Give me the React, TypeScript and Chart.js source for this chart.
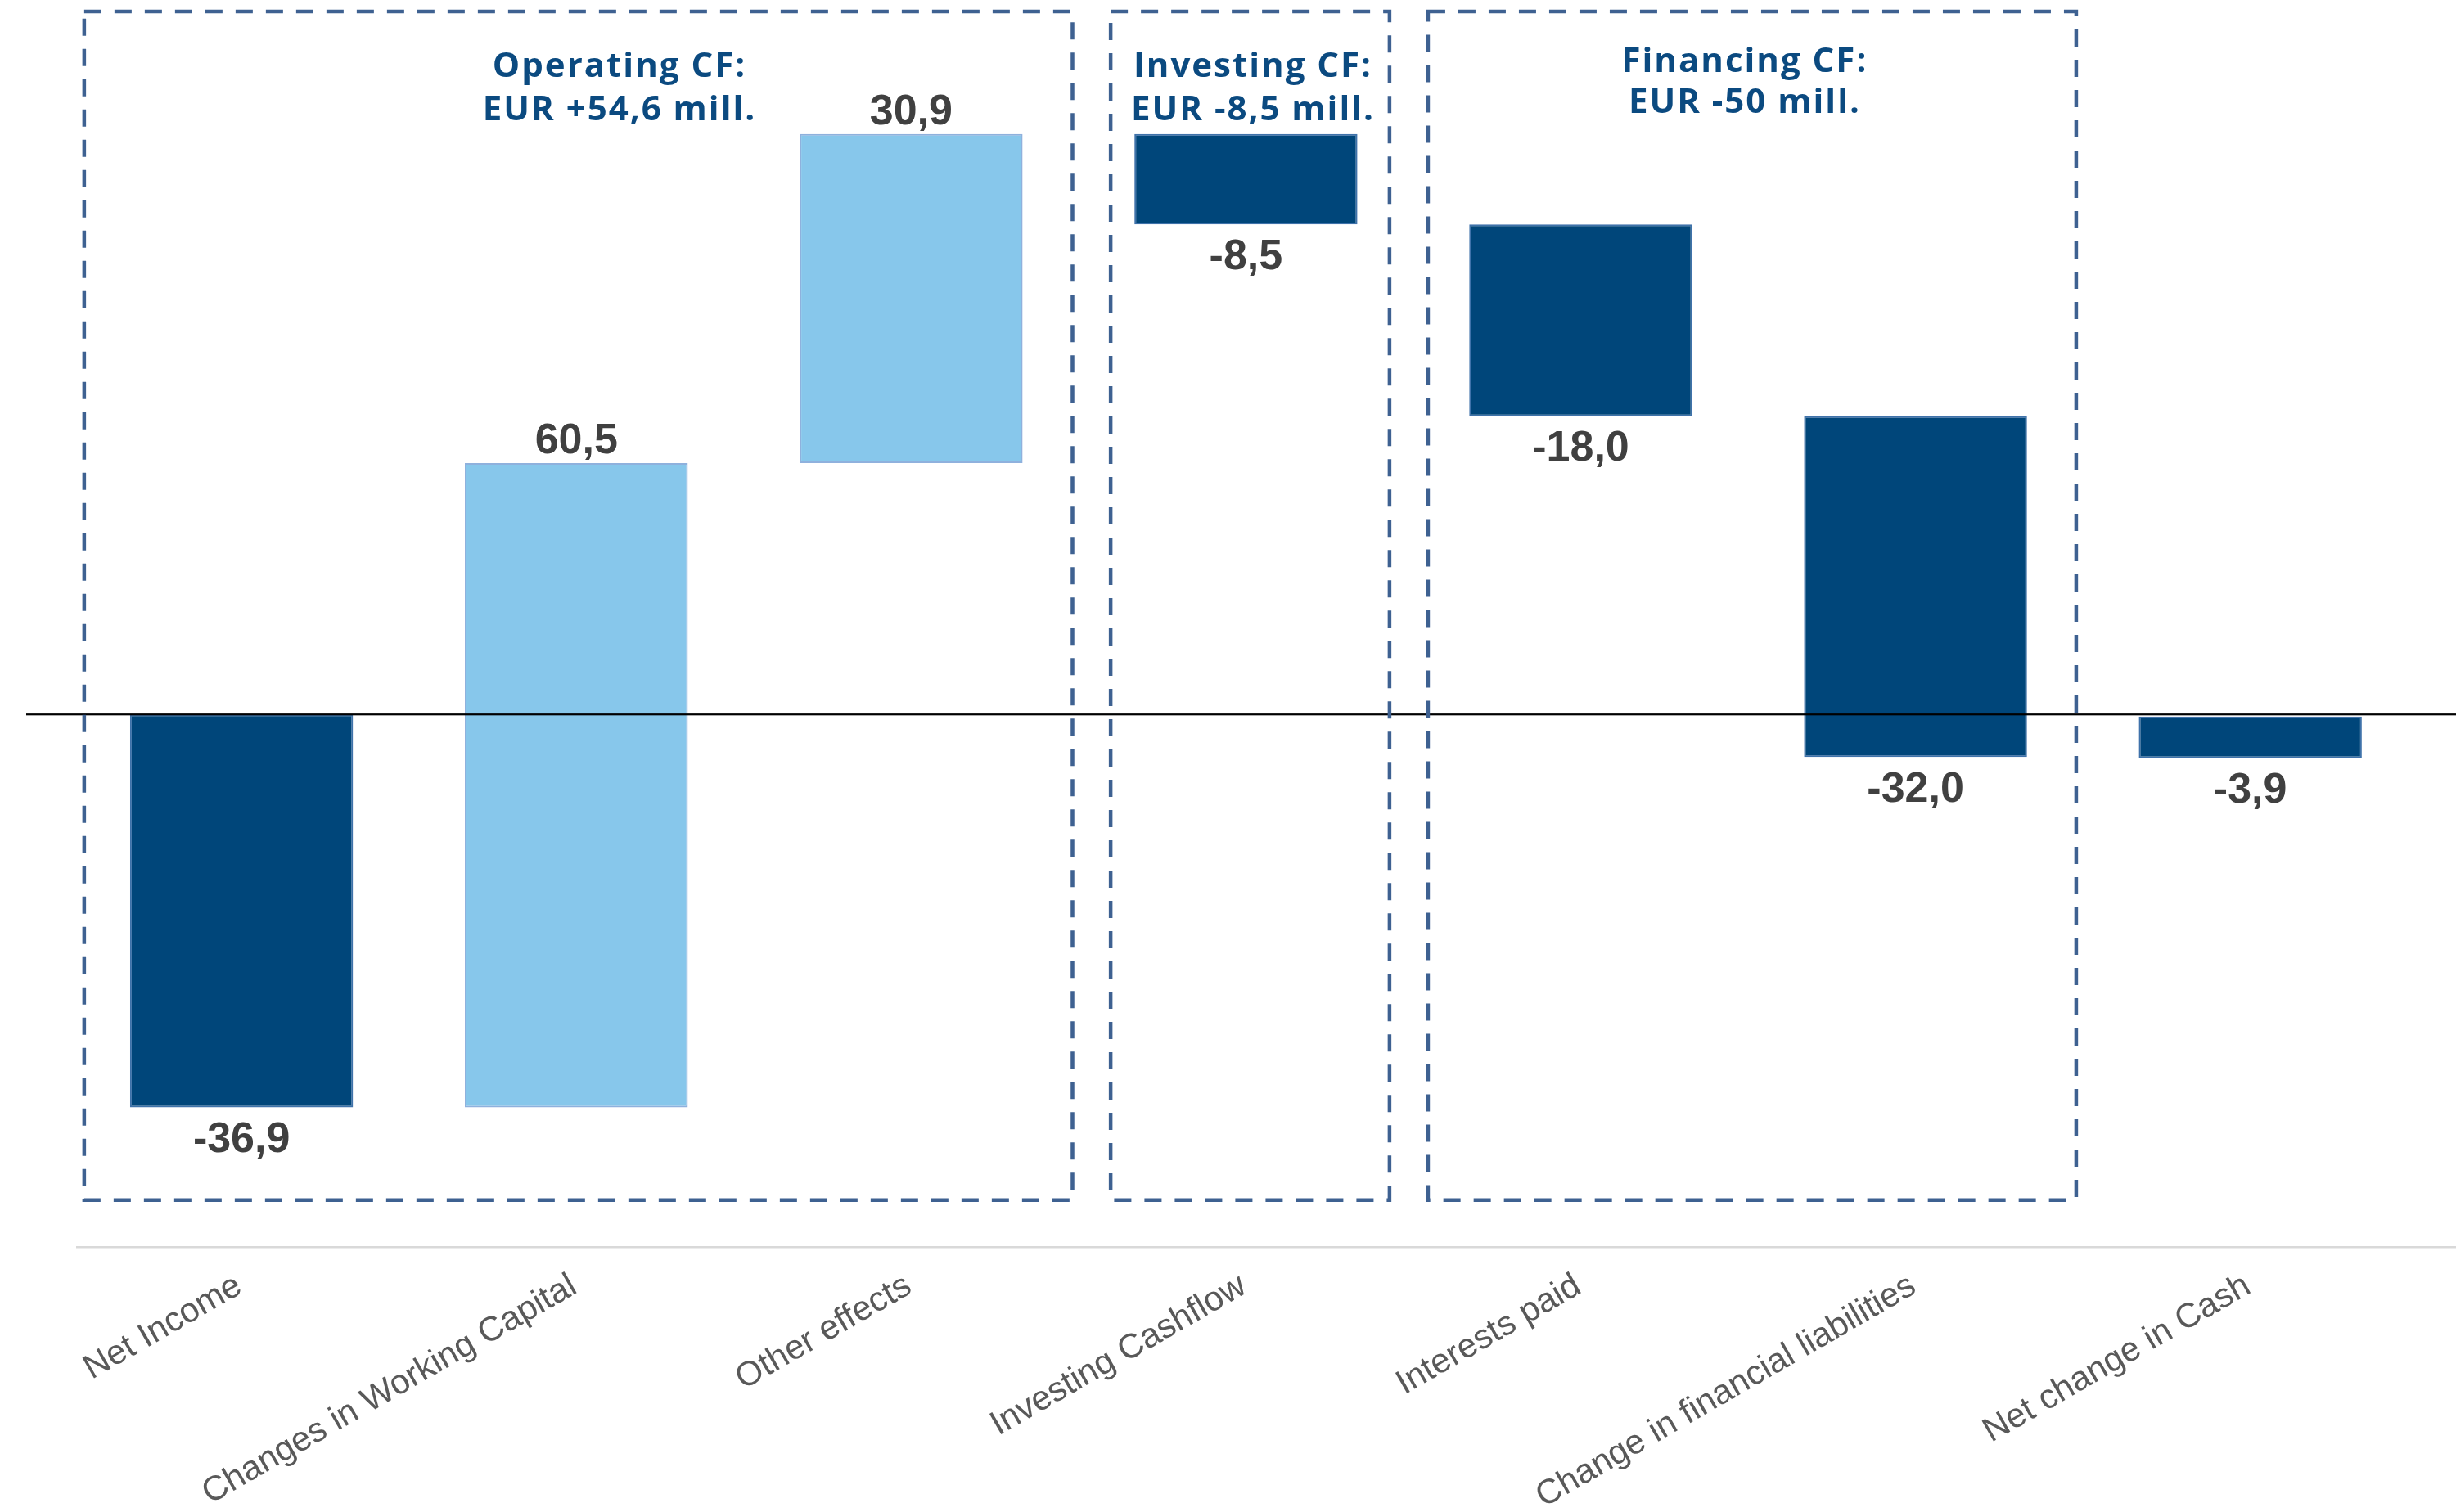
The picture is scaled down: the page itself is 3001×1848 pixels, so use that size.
import React, { useEffect, useRef } from "react";
import { Chart, registerables } from "chart.js";

Chart.register(...registerables);

// ---- data ----
const categories = [
  "Net Income",
  "Changes in Working Capital",
  "Other effects",
  "Investing Cashflow",
  "Interests paid",
  "Change in financial liabilities",
  "Net change in Cash",
];
// floating bar ranges (EUR mill.) of the waterfall
const barStart = [0, -36.9, 23.6, 54.5, 46.0, 28.0, -0.2];
const barEnd = [-36.9, 23.6, 54.5, 46.0, 28.0, -4.0, -4.1];
const valueLabels = ["-36,9", "60,5", "30,9", "-8,5", "-18,0", "-32,0", "-3,9"];
const barKind = ["decrease", "increase", "increase", "decrease", "decrease", "decrease", "total"];

const groupTitles = ["Operating CF:", "Investing CF:", "Financing CF:"];
const groupTotals = ["EUR +54,6 mill.", "EUR -8,5 mill.", "EUR -50 mill."];

// ---- styling / layout ----
const W = 3001;
const H = 1848;
const DARK = "#00467A";
const LIGHT = "#87C7EB";
const DARK_BORDER = "#3F72AA";
const LIGHT_BORDER = "#8FB1DD";
const BOX = "#3E6191";
const TITLE = "#0B4A80";

// box spans in fractional category index, and y-values for top/bottom
const boxSpans = [
  [-0.47, 2.482],
  [2.596, 3.429],
  [3.544, 5.48],
];
const boxTop = 66.0;
const boxBottom = -45.6;
// title anchor positions (category index, value) for the two lines
const titlePos = [
  [1.129, 60.8, 56.7],
  [3.021, 60.8, 56.7],
  [4.49, 61.2, 57.4],
];

const decorPlugin = {
  id: "decor",
  beforeDatasetsDraw(chart: any) {
    const { ctx, chartArea } = chart;
    ctx.save();
    ctx.fillStyle = "#D9D9D9";
    ctx.fillRect(93, chartArea.bottom - 1, W - 93, 2.5);
    ctx.restore();
  },
  afterDatasetsDraw(chart: any) {
    const { ctx } = chart;
    const ys = chart.scales.y;
    const xs = chart.scales.x;
    const meta = chart.getDatasetMeta(0);
    // zero line
    const y0 = ys.getPixelForValue(0);
    ctx.save();
    ctx.fillStyle = "#000000";
    ctx.fillRect(32, y0 - 1, W - 32, 2.2);

    // value labels
    ctx.font = 'bold 52px "Liberation Sans", Arial, sans-serif';
    ctx.fillStyle = "#404040";
    ctx.textAlign = "center";
    ctx.textBaseline = "middle";
    meta.data.forEach((bar: any, i: number) => {
      const top = Math.min(bar.y, bar.base);
      const bottom = Math.max(bar.y, bar.base);
      const y = barKind[i] === "increase" ? top - 26 : bottom + 40;
      ctx.fillText(valueLabels[i], bar.x, y);
    });

    // dashed group boxes
    ctx.setLineDash([21, 16]);
    ctx.lineWidth = 4.5;
    ctx.strokeStyle = BOX;
    const yt = ys.getPixelForValue(boxTop);
    const yb = ys.getPixelForValue(boxBottom);
    boxSpans.forEach(([a, b]) => {
      const xl = xs.getPixelForValue(a);
      const xr = xs.getPixelForValue(b);
      ctx.strokeRect(xl, yt, xr - xl, yb - yt);
    });
    ctx.setLineDash([]);

    // group titles
    ctx.font = 'bold 42px "Open Sans", "Noto Sans", sans-serif';
    (ctx as any).letterSpacing = "2px";
    ctx.fillStyle = TITLE;
    ctx.textAlign = "center";
    ctx.textBaseline = "middle";
    titlePos.forEach(([ix, v1, v2], g) => {
      const x = xs.getPixelForValue(ix);
      ctx.fillText(groupTitles[g], x, ys.getPixelForValue(v1));
      ctx.fillText(groupTotals[g], x, ys.getPixelForValue(v2));
    });
    (ctx as any).letterSpacing = "0px";
    ctx.restore();
  },
};

export default function App() {
  const ref = useRef<HTMLCanvasElement | null>(null);

  useEffect(() => {
    if (!ref.current) return;
    const chart = new Chart(ref.current, {
      type: "bar",
      data: {
        labels: categories,
        datasets: [
          {
            data: categories.map((_, i) => [barStart[i], barEnd[i]]) as any,
            backgroundColor: barKind.map((k) => (k === "increase" ? LIGHT : DARK)),
            borderColor: barKind.map((k) => (k === "increase" ? LIGHT_BORDER : DARK_BORDER)),
            borderWidth: 2,
            borderSkipped: false,
            barPercentage: 0.666,
            categoryPercentage: 1,
          },
        ],
      },
      options: {
        responsive: false,
        animation: false,
        devicePixelRatio: 1,
        layout: { padding: { left: 90.6, right: W - 2954.2, top: 27, bottom: 0 } },
        plugins: {
          legend: { display: false },
          tooltip: { enabled: false },
        },
        scales: {
          x: {
            grid: { display: false, drawTicks: false },
            border: { display: false },
            ticks: {
              minRotation: 30,
              maxRotation: 30,
              padding: 23,
              labelOffset: -3,
              color: "#595959",
              font: { family: '"Liberation Sans", Arial, sans-serif', size: 42 },
            },
            afterFit: (s: any) => {
              s.height = H - 1524;
            },
          },
          y: { display: false, min: -50, max: 65 },
        },
      },
      plugins: [decorPlugin],
    });
    return () => chart.destroy();
  }, []);

  return (
    <div style={{ position: "absolute", left: 0, top: 0, width: W, height: H, background: "#fff" }}>
      <canvas ref={ref} width={W} height={H} style={{ display: "block", width: W, height: H }} />
    </div>
  );
}
